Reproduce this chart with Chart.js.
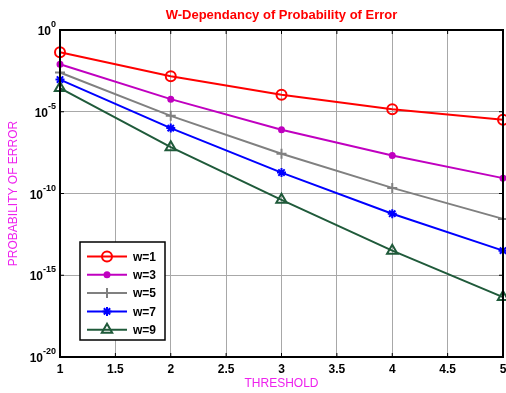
<!DOCTYPE html>
<html>
<head>
<meta charset="utf-8">
<script src="https://cdn.jsdelivr.net/npm/chart.js@4.4.0/dist/chart.umd.min.js"></script>
<style>
  html, body { margin: 0; padding: 0; background: #fff; }
  #wrap { width: 506px; height: 393px; position: relative; }
</style>
</head>
<body>
<div id="wrap"><canvas id="myChart"></canvas></div>
<script>
// threshold values (x)
var thresholds = [1, 2, 3, 4, 5];
// probability of error for each w
var w1 = [4.4e-2, 1.5e-3, 1.1e-4, 1.4e-5, 3.2e-6];
var w3 = [8.1e-3, 5.9e-5, 7.9e-7, 2.1e-8, 8.7e-10];
var w5 = [2.5e-3, 5.6e-6, 2.7e-8, 2.2e-10, 2.8e-12];
var w7 = [9.3e-4, 1.0e-6, 1.9e-9, 5.8e-12, 3.2e-14];
var w9 = [2.8e-4, 6.8e-8, 4.1e-11, 3.2e-14, 4.6e-17];
var seriesNames = ['w=1', 'w=3', 'w=5', 'w=7', 'w=9'];
// y ticks as powers of ten
var yTickExp = [0, -5, -10, -15, -20];

var FONT = '"Liberation Sans", Arial, sans-serif';

function pts(arr) {
  return thresholds.map(function (t, i) { return { x: t, y: arr[i] }; });
}

var styles = [
  { color: '#ff0000', point: 'circle', radius: 5, fill: 'rgba(0,0,0,0)' },
  { color: '#c000c0', point: 'circle', radius: 2.5, fill: '#c000c0' },
  { color: '#808080', point: 'cross', radius: 5, fill: '#808080' },
  { color: '#0000ff', point: 'star', radius: 4.5, fill: '#0000ff' },
  { color: '#1f5a3a', point: 'triangle', radius: 6, fill: 'rgba(0,0,0,0)' }
];
var allSeries = [w1, w3, w5, w7, w9];

var datasets = allSeries.map(function (s, i) {
  var st = styles[i];
  return {
    label: seriesNames[i],
    data: pts(s),
    borderColor: st.color,
    backgroundColor: st.fill,
    borderWidth: 2,
    pointStyle: st.point,
    pointRadius: st.radius,
    pointBorderColor: st.color,
    pointBackgroundColor: st.fill,
    pointBorderWidth: 2,
    tension: 0,
    clip: false
  };
});

var extras = {
  id: 'extras',
  afterDraw: function (chart) {
    var ctx = chart.ctx;
    var a = chart.chartArea;
    var xs = chart.scales.x;
    var ys = chart.scales.y;
    ctx.save();

    // frame
    ctx.strokeStyle = '#000';
    ctx.lineWidth = 2;
    ctx.strokeRect(a.left, a.top, a.right - a.left, a.bottom - a.top);

    // small inward ticks
    ctx.lineWidth = 1;
    for (var v = 1; v <= 5.001; v += 0.5) {
      var px = xs.getPixelForValue(v);
      ctx.beginPath();
      ctx.moveTo(px, a.top); ctx.lineTo(px, a.top + 4);
      ctx.moveTo(px, a.bottom); ctx.lineTo(px, a.bottom - 4);
      ctx.stroke();
    }
    yTickExp.forEach(function (e) {
      var py = ys.getPixelForValue(Math.pow(10, e));
      ctx.beginPath();
      ctx.moveTo(a.left, py); ctx.lineTo(a.left + 4, py);
      ctx.moveTo(a.right, py); ctx.lineTo(a.right - 4, py);
      ctx.stroke();
    });

    // y tick labels 10^n
    ctx.fillStyle = '#000';
    ctx.textBaseline = 'alphabetic';
    yTickExp.forEach(function (e) {
      var py = ys.getPixelForValue(Math.pow(10, e));
      var sup = String(e);
      ctx.font = 'bold 9px ' + FONT;
      var sw = ctx.measureText(sup).width;
      ctx.font = 'bold 12px ' + FONT;
      var bw = ctx.measureText('10').width;
      var right = 56;
      ctx.textAlign = 'left';
      ctx.fillText('10', right - sw - bw, py + 5);
      ctx.font = 'bold 9px ' + FONT;
      ctx.fillText(sup, right - sw, py - 3);
    });

    // title
    ctx.fillStyle = '#ff0000';
    ctx.font = 'bold 13px ' + FONT;
    ctx.textAlign = 'center';
    ctx.textBaseline = 'middle';
    ctx.fillText('W-Dependancy of Probability of Error', (a.left + a.right) / 2, 15);

    // axis titles
    ctx.fillStyle = '#ee22ee';
    ctx.font = '12px ' + FONT;
    ctx.fillText('THRESHOLD', (a.left + a.right) / 2, 384);
    ctx.save();
    ctx.translate(14, (a.top + a.bottom) / 2);
    ctx.rotate(-Math.PI / 2);
    ctx.fillText('PROBABILITY OF ERROR', 0, 0);
    ctx.restore();

    // legend
    var lx = 80, ly = 242, lw = 85, lh = 98;
    ctx.fillStyle = '#fff';
    ctx.fillRect(lx, ly, lw, lh);
    ctx.strokeStyle = '#000';
    ctx.lineWidth = 1.5;
    ctx.strokeRect(lx, ly, lw, lh);
    chart.data.datasets.forEach(function (ds, i) {
      var ry = 256.5 + i * 18.3;
      ctx.strokeStyle = ds.borderColor;
      ctx.lineWidth = 2;
      ctx.beginPath();
      ctx.moveTo(87, ry); ctx.lineTo(127, ry);
      ctx.stroke();
      ctx.fillStyle = ds.pointBackgroundColor;
      ctx.lineWidth = 2;
      Chart.helpers.drawPoint(ctx, { pointStyle: ds.pointStyle, radius: ds.pointRadius, borderWidth: 2, rotation: 0 }, 107, ry);
      ctx.fillStyle = '#000';
      ctx.font = 'bold 12px ' + FONT;
      ctx.textAlign = 'left';
      ctx.textBaseline = 'middle';
      ctx.fillText(ds.label, 133, ry + 1);
    });

    ctx.restore();
  }
};

var ctx = document.getElementById('myChart').getContext('2d');
var myChart = new Chart(ctx, {
  type: 'line',
  data: { datasets: datasets },
  options: {
    responsive: true,
    maintainAspectRatio: false,
    animation: false,
    layout: { autoPadding: false, padding: { top: 30, right: 3, left: 0, bottom: 0 } },
    plugins: {
      legend: { display: false },
      title: { display: false },
      tooltip: { enabled: false }
    },
    scales: {
      x: {
        type: 'linear',
        min: 1,
        max: 5,
        afterFit: function (scale) {
          scale.height = 36;
          scale.paddingLeft = 0;
          scale.paddingRight = 0;
        },
        ticks: {
          stepSize: 0.5,
          color: '#000',
          padding: 5,
          font: { family: FONT, size: 12, weight: 'bold' },
          maxRotation: 0,
          callback: function (v) { return String(v); }
        },
        grid: { color: '#a8a8a8', lineWidth: 1, tickLength: 0 },
        border: { display: false }
      },
      y: {
        type: 'logarithmic',
        min: 1e-20,
        max: 1,
        afterFit: function (scale) {
          scale.width = 60;
          scale.paddingTop = 0;
          scale.paddingBottom = 0;
        },
        afterBuildTicks: function (scale) {
          scale.ticks = yTickExp.map(function (e) { return { value: Math.pow(10, e) }; });
        },
        ticks: { display: false },
        grid: { color: '#a8a8a8', lineWidth: 1, tickLength: 0 },
        border: { display: false }
      }
    }
  },
  plugins: [extras]
});
</script>
</body>
</html>
